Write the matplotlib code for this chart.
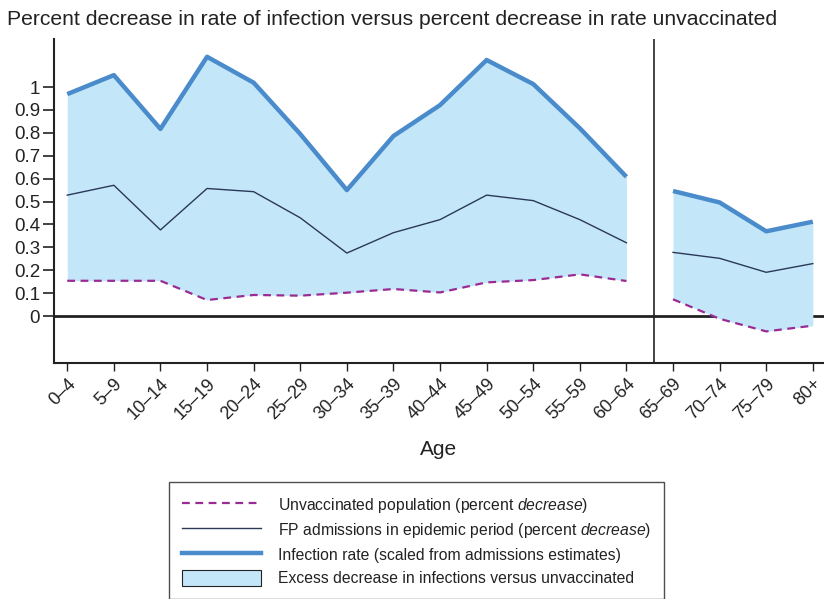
import matplotlib
matplotlib.use("Agg")
import matplotlib.pyplot as plt
import numpy as np
from matplotlib.lines import Line2D
from matplotlib.patches import Patch

plt.rcParams['font.family'] = ['Liberation Sans', 'DejaVu Sans']
# 斜体用同一字体
plt.rcParams['mathtext.fontset'] = 'custom'
plt.rcParams['mathtext.it'] = 'Liberation Sans:italic'
plt.rcParams['mathtext.rm'] = 'Liberation Sans'

# 年龄组
ageGroups = ["0–4", "5–9", "10–14", "15–19", "20–24", "25–29", "30–34", "35–39",
             "40–44", "45–49", "50–54", "55–59", "60–64",
             "65–69", "70–74", "75–79", "80+"]

# 未接种人群 (percent decrease)
unvaccinated = [0.154, 0.154, 0.154, 0.070, 0.092, 0.089, 0.102, 0.118,
                0.103, 0.147, 0.157, 0.182, 0.153,
                0.073, -0.012, -0.067, -0.042]

# FP admissions in epidemic period
fpAdmissions = [0.528, 0.571, 0.376, 0.557, 0.543, 0.429, 0.275, 0.364,
                0.421, 0.528, 0.504, 0.421, 0.320,
                0.278, 0.252, 0.191, 0.229]

# 感染率 (scaled from admissions estimates)
infectionRate = [0.969, 1.052, 0.817, 1.132, 1.019, 0.795, 0.550, 0.786,
                 0.921, 1.118, 1.013, 0.820, 0.608,
                 0.546, 0.496, 0.370, 0.412]

# 两个分段: <65 和 >=65
segments = [(0, 13), (13, 17)]

yTicks = [0, 0.1, 0.2, 0.3, 0.4, 0.5, 0.6, 0.7, 0.8, 0.9, 1]
yTickLabels = ["0", "0.1", "0.2", "0.3", "0.4", "0.5", "0.6", "0.7", "0.8", "0.9", "1"]

fillColor = "#c3e7f9"
rateColor = "#4a8bcb"
fpColor = "#2b3858"
unvacColor = "#9a2b92"
axisColor = "#222222"


def DrawSegments(ax):
    x = np.arange(len(ageGroups))
    unvac = np.array(unvaccinated)
    fp = np.array(fpAdmissions)
    rate = np.array(infectionRate)
    for start, end in segments:
        xs = x[start:end]
        ax.fill_between(xs, unvac[start:end], rate[start:end], color=fillColor,
                        linewidth=0, zorder=2)
        ax.plot(xs, unvac[start:end], color=unvacColor, linestyle=(0, (3.5, 2.5)),
                linewidth=1.6, zorder=3)
        ax.plot(xs, fp[start:end], color=fpColor, linewidth=1.0, zorder=3)
        ax.plot(xs, rate[start:end], color=rateColor, linewidth=3.2, zorder=4,
                solid_capstyle='butt')


fig = plt.figure(figsize=(8.24, 5.99), dpi=100)
ax = fig.add_axes([0.0655, 0.394, 0.9345, 0.541])

# 零线 + 分隔线
ax.axhline(0, color=axisColor, linewidth=2.0, zorder=1)
ax.axvline(12.6, color=axisColor, linewidth=1.2, zorder=1)

DrawSegments(ax)

ax.set_xlim(-0.285, 16.24)
ax.set_ylim(-0.205, 1.21)

ax.set_yticks(yTicks)
ax.set_yticklabels(yTickLabels, fontsize=13.5)
ax.set_xticks(np.arange(len(ageGroups)))
ax.set_xticklabels(ageGroups, rotation=45, ha='right', rotation_mode='anchor',
                   fontsize=13)
ax.tick_params(axis='y', length=8, width=1.2, color=axisColor, labelcolor=axisColor, pad=2)
ax.tick_params(axis='x', length=6, width=1.0, color=axisColor, labelcolor=axisColor, pad=3)

for side in ['top', 'right']:
    ax.spines[side].set_visible(False)
for side in ['left', 'bottom']:
    ax.spines[side].set_color(axisColor)
    ax.spines[side].set_linewidth(1.5)

ax.set_xlabel("Age", fontsize=15, color=axisColor, labelpad=12)

fig.text(0.008, 0.968, "Percent decrease in rate of infection versus percent decrease in rate unvaccinated",
         fontsize=15.2, color=axisColor, va='center', ha='left')

# 图例
handles = [
    Line2D([], [], color=unvacColor, linestyle=(0, (3.5, 2.5)), linewidth=1.6),
    Line2D([], [], color=fpColor, linewidth=1.0),
    Line2D([], [], color=rateColor, linewidth=3.2),
    Patch(facecolor=fillColor, edgecolor=axisColor, linewidth=0.8),
]
labels = [
    "Unvaccinated population (percent $\\it{decrease}$)",
    "FP admissions in epidemic period (percent $\\it{decrease}$)",
    "Infection rate (scaled from admissions estimates)",
    "Excess decrease in infections versus unvaccinated",
]
leg = fig.legend(handles, labels, loc='upper left', bbox_to_anchor=(0.205, 0.195),
                 fontsize=11.3, frameon=True, fancybox=False, handlelength=5.0,
                 handleheight=1.2, handletextpad=1.1, labelspacing=0.42,
                 borderpad=0.85, borderaxespad=0)
leg.get_frame().set_edgecolor(axisColor)
leg.get_frame().set_linewidth(1.0)
for t in leg.get_texts():
    t.set_color(axisColor)

fig.savefig("out.png", dpi=100)
